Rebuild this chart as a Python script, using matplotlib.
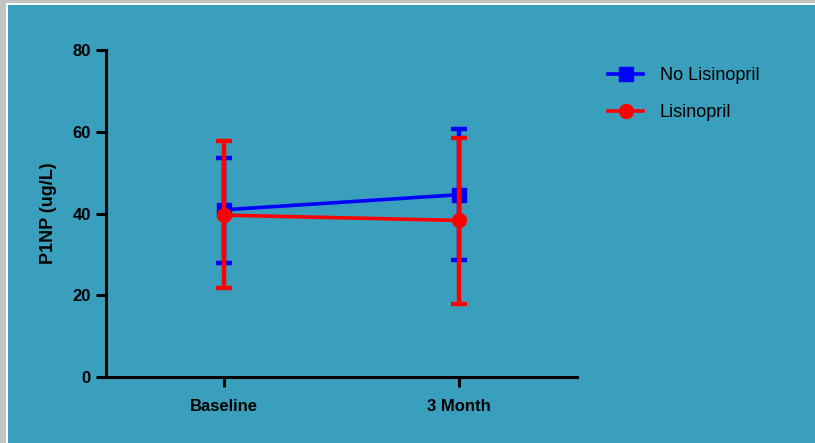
import matplotlib
matplotlib.use("Agg")
import matplotlib.pyplot as plt
from matplotlib.patches import Rectangle
from matplotlib.lines import Line2D

categories = ["Baseline", "3 Month"]
series_names = ["No Lisinopril", "Lisinopril"]
no_lis_mean = [40.9, 44.6]
no_lis_upper = [53.7, 60.6]
no_lis_lower = [27.8, 28.6]
lis_mean = [39.6, 38.3]
lis_upper = [57.7, 58.4]
lis_lower = [21.8, 17.9]
y_ticks = [0, 20, 40, 60, 80]

plt.rcParams['font.family'] = ['Liberation Sans', 'DejaVu Sans']

W, H = 815, 443
fig = plt.figure(figsize=(W / 100, H / 100), dpi=100)
fig.patch.set_facecolor('#C3C3C3')
fig.patches.append(Rectangle((6 / W, 0), 1, 1 - 3 / H, transform=fig.transFigure,
                             facecolor='white', edgecolor='none', zorder=-2))
fig.patches.append(Rectangle((8 / W, 0), 1, 1 - 5 / H, transform=fig.transFigure,
                             facecolor='#3A9FBD', edgecolor='none', zorder=-1))

ax = fig.add_axes([106 / W, 66 / H, (577 - 106) / W, (377 - 50) / H])
ax.set_facecolor('none')

x = list(range(len(categories)))

def draw(mean, lo, hi, color, marker, ms, z):
    yerr = [[m - l for m, l in zip(mean, lo)], [h - m for m, h in zip(mean, hi)]]
    ax.errorbar(x, mean, yerr=yerr, color=color, ecolor=color, elinewidth=3.2,
                capsize=6, capthick=3.2, linewidth=2.6, marker=marker,
                markersize=ms, zorder=z, clip_on=False)

draw(no_lis_mean, no_lis_lower, no_lis_upper, '#0000FF', 's', 9.5, 3)
draw(lis_mean, lis_lower, lis_upper, '#FF0000', 'o', 10, 4)

ax.set_xlim(-0.5, 1.5)
ax.set_ylim(0, 80)
ax.set_yticks(y_ticks)
ax.set_xticks(x)
ax.set_xticklabels(categories, fontweight='bold', fontsize=12)
ax.set_yticklabels([str(t) for t in y_ticks], fontweight='bold', fontsize=12)
for s in ['top', 'right']:
    ax.spines[s].set_visible(False)
for s in ['left', 'bottom']:
    ax.spines[s].set_linewidth(2.2)
ax.tick_params(axis='both', direction='out', length=7, width=2.2, colors='black')
ax.tick_params(axis='x', pad=9)
ax.tick_params(axis='y', pad=4)
ax.set_ylabel("P1NP (ug/L)", fontweight='bold', fontsize=13, labelpad=11)

handles = [Line2D([], [], color='#0000FF', marker='s', markersize=9.5, linewidth=2.6),
           Line2D([], [], color='#FF0000', marker='o', markersize=10, linewidth=2.6)]
leg = fig.legend(handles, series_names, loc='upper left', bbox_to_anchor=(592 / W, 1 - 51 / H),
                 frameon=False, fontsize=13, handlelength=1.95, handletextpad=0.9,
                 labelspacing=1.1)

fig.savefig("out.png", dpi=100, facecolor=fig.get_facecolor())
